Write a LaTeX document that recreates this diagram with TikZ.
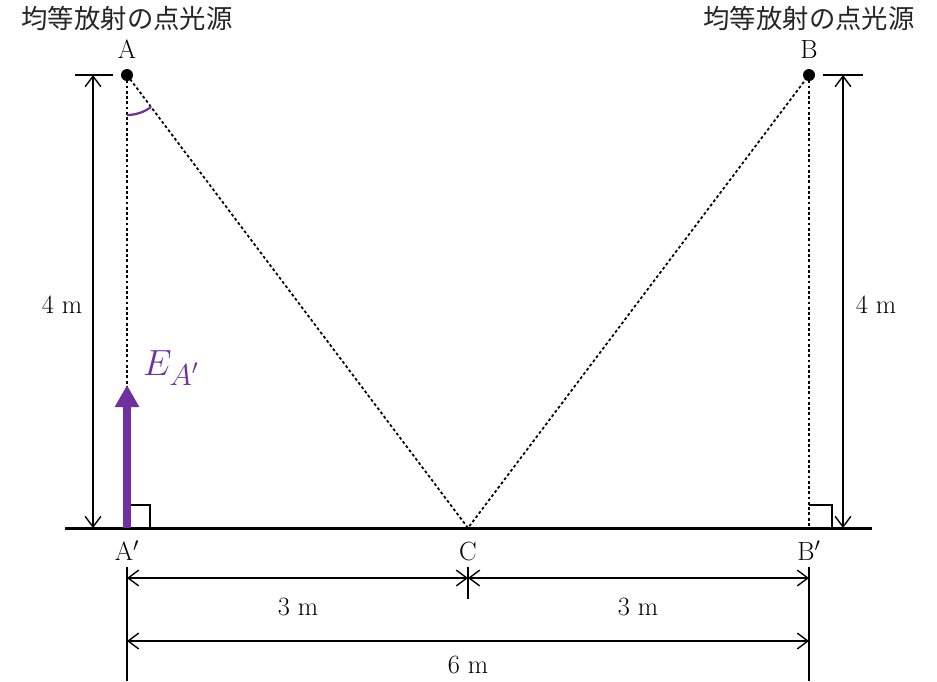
\documentclass[tikz,border=0pt]{standalone}
\usepackage{fontspec}
\usepackage{amsmath}
\usepackage{xcolor}
\usepackage{tikz}
\usetikzlibrary{angles, arrows.meta}
\newfontfamily\jpfont{Noto Sans CJK JP}
\definecolor{lightpurple}{RGB}{112,48,160}

\tikzset{
    dimline/.style={line width=0.8pt, {Straight Barb[length=6pt,width=9pt]}-{Straight Barb[length=6pt,width=9pt]}},
    thinline/.style={line width=0.8pt},
    rayline/.style={line width=1pt, dash pattern=on 1.6pt off 1.4pt},
    lbl/.style={font=\fontsize{15}{17}\selectfont, inner sep=1pt},
    srclbl/.style={font=\jpfont\fontsize{15}{17}\selectfont, text=black!85}
}

\begin{document}
\begin{tikzpicture}[x=0.02cm, y=-0.02cm]
    		\useasboundingbox (0,0) rectangle (937,681);
    		\coordinate (A) at (127,75);
    		\coordinate (B) at (809,75);
    		\coordinate (Ap) at (127,528);
    		\coordinate (C) at (468,528);
    		\coordinate (Bp) at (809,528);
    		\coordinate (tip) at (127,385);
    		\coordinate (gl) at (65,528);
    		\coordinate (gr) at (872,528);
    		
    		% rays
    		\draw[rayline] (A) -- (Ap);
    		\draw[rayline] (B) -- (Bp);
    		\draw[rayline] (A) -- (C) -- (B);
    		\draw[line width=1.7pt] (gl) -- (gr);
    		
    		% right angles
    		\draw[thinline] (127,505) -- (150,505) -- (150,528);
    		\draw[thinline] (809,505) -- (832,505) -- (832,528);
    		
    		% angle at A
    		\pic[draw=lightpurple, line width=1.3pt, angle radius=0.8cm] {angle=Ap--A--C};
    		
    		% E_A' arrow
    		\draw[lightpurple, line width=4pt, -{Triangle[width=0.46cm,length=0.44cm]}] (Ap) -- (tip);
    		\node[lightpurple, font=\fontsize{22}{24}\selectfont, anchor=west] (E) at (137,368) {$E_{\text{\fontsize{17}{17}\selectfont$A'$}}$};
    		
    		% heights
    		\coordinate (hl1) at (75,75);
    		\coordinate (hl2) at (113,75);
    		\coordinate (hl) at (93,75);
    		\coordinate (hlb) at (93,528);
    		\coordinate (hr1) at (823,75);
    		\coordinate (hr2) at (863,75);
    		\coordinate (hr) at (843,75);
    		\coordinate (hrb) at (843,528);
    		\draw[thinline] (hl1) -- (hl2);
    		\draw[thinline] (hr1) -- (hr2);
    		\draw[dimline] (hl) -- (hlb);
    		\draw[dimline] (hr) -- (hrb);
    		
    		% widths
    		\coordinate (w1) at (127,578);
    		\coordinate (w2) at (468,578);
    		\coordinate (w3) at (809,578);
    		\coordinate (v1) at (127,641);
    		\coordinate (v3) at (809,641);
    		\draw[thinline] (127,567) -- (127,681);
    		\draw[thinline] (809,567) -- (809,681);
    		\draw[thinline] (468,567) -- (468,599);
    		\draw[dimline] (w1) -- (w2);
    		\draw[dimline] (w2) -- (w3);
    		\draw[dimline] (v1) -- (v3);
    		
    		\fill (A) circle (6);
    		\fill (B) circle (6);
    		
    		\foreach \x/\y/\n/\label in {
    			127/49/la/A,
    			809/49/lb/B,
    			127/551/lap/A$'$,
    			468/551/lc/C,
    			809/551/lbp/B$'$,
    			62/305/hleft/4 m,
    			876/305/hright/4 m,
    			298/607/wleft/3 m,
    			638/607/wright/3 m,
    			468/665/wall/6 m
    		}{
    			\node[lbl] (\n) at (\x,\y) {\label};
    		}
    		\node[srclbl] (srcA) at (127,18) {均等放射の点光源};
    		\node[srclbl] (srcB) at (809,18) {均等放射の点光源};
    	\end{tikzpicture}
\end{document}
